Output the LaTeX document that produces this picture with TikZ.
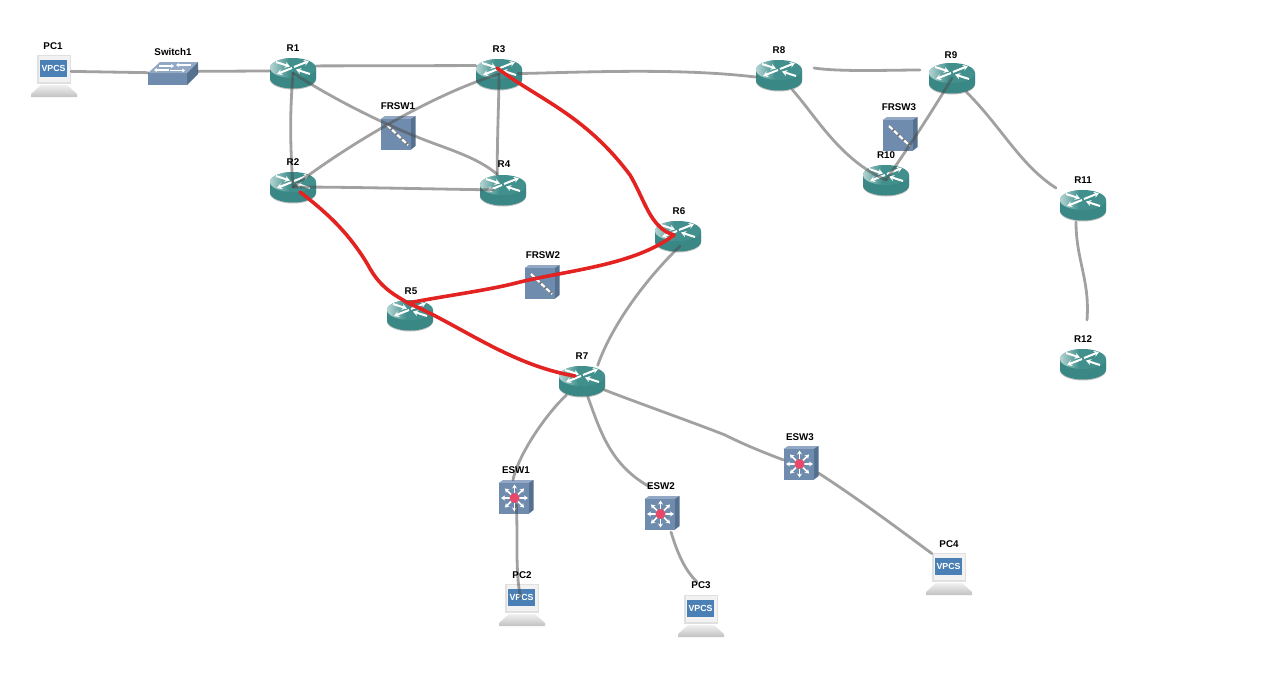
\documentclass[tikz,border=0pt]{standalone}
\usepackage{fontspec}
\setmainfont{Liberation Sans}
\usetikzlibrary{arrows.meta}
\definecolor{rtop}{HTML}{41908D}
\definecolor{rbody}{HTML}{3A8885}
\definecolor{rlight}{HTML}{B4D4D2}
\definecolor{bfront}{HTML}{6F8CAE}
\definecolor{btop}{HTML}{93A8C4}
\definecolor{bside}{HTML}{56708F}
\definecolor{redlink}{HTML}{E32222}
\definecolor{scr}{HTML}{4A80B5}
\definecolor{hot}{HTML}{E8486A}
\tikzset{
  x=1pt,y=-1pt,
  link/.style={draw=black!70,opacity=.52,line width=2.8pt,line cap=round},
  hotlink/.style={draw=redlink,line width=3.6pt,line cap=round},
  lab/.style={font=\bfseries\fontsize{9.8}{10}\selectfont,text=black,inner sep=0pt},
  routerbox/.style={inner sep=0pt,minimum width=46pt,minimum height=31pt},
  vpcsbox/.style={inner sep=0pt,minimum width=34pt,minimum height=42pt},
  switchbox/.style={inner sep=0pt,minimum width=50pt,minimum height=23pt},
  frswbox/.style={inner sep=0pt,minimum width=35pt,minimum height=34pt},
  eswbox/.style={inner sep=0pt,minimum width=35pt,minimum height=34pt},
  warrow/.style={draw=white,line width=2pt,-{Stealth[length=5pt,width=6pt]}},
  router/.pic={
    \fill[black!25] (-23,-4) -- (-23,6.5) arc[x radius=23,y radius=10,start angle=180,end angle=0] -- (23,-4) -- cycle;
    \fill[rbody] (-23,-5) -- (-23,5.5) arc[x radius=23,y radius=10,start angle=180,end angle=0] -- (23,-5) -- cycle;
    \fill[rtop] (0,-5) ellipse[x radius=23,y radius=10];
    \begin{scope}
      \clip (0,-5) ellipse[x radius=23,y radius=10];
      \shade[left color=rlight,right color=rtop] (-23,-15) rectangle (-4,5);
    \end{scope}
    \draw[warrow] (-1,-5) -- (-16,1);
    \draw[warrow] (1,-6) -- (16,-12);
    \draw[warrow] (-17,-11) -- (-3,-6.5);
    \draw[warrow] (17,1) -- (3,-3.5);
  },
  vpcs/.pic={
    \fill[black!12] (-17,-21) rectangle (17,8);
    \fill[black!5] (-15.5,-20) rectangle (15.5,6);
    \fill[scr] (-14,-16) rectangle (13,1);
    \node[font=\bfseries\fontsize{8.8}{9}\selectfont,text=white,inner sep=0pt] at (-0.5,-7.5) {VPCS};
    \shade[top color=black!6,bottom color=black!24] (-13,9) -- (13,9) -- (23,18) -- (23,21) -- (-23,21) -- (-23,18) -- cycle;
  },
  switchicon/.pic={
    \fill[bfront] (-25,-1) rectangle (14,11);
    \fill[btop] (-25,-1) -- (-13,-12) -- (25,-12) -- (14,-1) -- cycle;
    \fill[bside] (14,-1) -- (25,-12) -- (25,0) -- (14,11) -- cycle;
    \draw[draw=white,line width=1.3pt,-{Stealth[length=3pt,width=4pt]}] (-14,-8) -- (1,-8);
    \draw[draw=white,line width=1.3pt,-{Stealth[length=3pt,width=4pt]}] (18,-9) -- (3,-9);
    \draw[draw=white,line width=1.3pt,-{Stealth[length=3pt,width=4pt]}] (-4,-4) -- (-19,-4);
    \draw[draw=white,line width=1.3pt,-{Stealth[length=3pt,width=4pt]}] (-3,-3.5) -- (12,-3.5);
  },
  boxbase/.pic={
    \fill[btop] (-17.5,-14) -- (-13,-17) -- (17.5,-17) -- (12.5,-14) -- cycle;
    \fill[bside] (12.5,-14) -- (17.5,-17) -- (17.5,13) -- (12.5,17) -- cycle;
    \fill[bfront] (-17.5,-14) rectangle (12.5,17);
  },
  frsw/.pic={
    \pic {boxbase};
    \draw[black!55,line width=2.6pt] (-11,-8) -- (10,12);
    \draw[white,line width=2.2pt,dash pattern=on 5pt off 2pt] (-11,-8) -- (10,12);
  },
  esw/.pic={
    \pic {boxbase};
    \foreach \a in {0,45,...,315}{
      \draw[draw=white,line width=1.6pt,-{Stealth[length=4pt,width=5pt]}] (-1.5,1) -- ++(\a:13.5);
    }
    \fill[hot] (-1.5,1) circle[radius=5];
  },
}
\newcommand{\dev}[4]{\pic at (#3,#4) {#1}; \node[#1box] (#2) at (#3,#4) {};}
\newcommand{\rtr}[3]{\pic at (#2,#3) {router}; \node[routerbox] (#1) at (#2,#3) {};}
\newcommand{\swi}[3]{\pic at (#2,#3) {switchicon}; \node[switchbox] (#1) at (#2,#3) {};}
\newcommand{\lbl}[3]{\node[lab] (#1-label) at (#2,#3) {#1};}
\begin{document}
\begin{tikzpicture}
\useasboundingbox (0,0) rectangle (1280,675);
\fill[white] (0,0) rectangle (1280,675);
\dev{vpcs}{PC1}{54}{76}
\swi{Switch1}{173}{74}
\rtr{R1}{293}{73}
\rtr{R3}{499}{74}
\rtr{R8}{779}{75}
\rtr{R9}{952}{78}
\dev{frsw}{FRSW1}{398}{133}
\rtr{R2}{293}{187}
\rtr{R4}{503}{190}
\dev{frsw}{FRSW3}{900}{134}
\rtr{R10}{886}{180}
\rtr{R6}{678}{236}
\rtr{R11}{1083}{205}
\dev{frsw}{FRSW2}{542}{282}
\rtr{R5}{410}{315}
\rtr{R7}{582}{381}
\rtr{R12}{1083}{364}
\dev{esw}{ESW3}{801}{463}
\dev{esw}{ESW1}{516}{497}
\dev{esw}{ESW2}{662}{513}
\dev{vpcs}{PC2}{522}{605}
\dev{vpcs}{PC3}{701}{616}
\dev{vpcs}{PC4}{949}{574}
\coordinate (R8gap) at (814,68);
\coordinate (R9gap) at (920,70);
\coordinate (R12top) at (1087,320);
\coordinate (PC3top) at (697,582);
\coordinate (ESW2foot) at (671,532);
\coordinate (ESW2top) at (650,487);
\coordinate (R11low) at (1076,222);
\coordinate (R11left) at (1056,188);
\coordinate (R6foot) at (680,246);
\coordinate (R3hub) at (497,68);
\coordinate (R2hub) at (300,192);
\coordinate (R5hub) at (408,303);
\coordinate (R6hub) at (674,235);
\coordinate (R7hub) at (575,376);
\draw[link] (PC1.15) -- (Switch1.177);
\draw[link] (Switch1.6) -- (R1.175);
\draw[link] (R1.17) -- (R3.160);
\draw[link] (R1.center) .. controls (291,100) and (289,130) .. (R2.center);
\draw[link] (R1.center) .. controls (335,100) and (385,125) .. (430,142) .. controls (460,153) and (480,160) .. (R4.110);
\draw[link] (R2.center) .. controls (340,150) and (430,95) .. (R3.center);
\draw[link,shorten >=10pt] (R2.center) .. controls (350,187) and (430,189) .. (R4.center);
\draw[link] (R3.center) .. controls (499,100) and (497,140) .. (R4.110);
\draw[link,shorten <=19pt] (R3.center) .. controls (590,72) and (680,68) .. (R8.-175);
\draw[link] (R8gap) .. controls (840,72) and (890,70) .. (R9gap);
\draw[link,shorten <=20pt] (R8.center) .. controls (815,115) and (840,160) .. (R10.center);
\draw[link] (R9.center) .. controls (930,115) and (910,145) .. (R10.center);
\draw[link,shorten <=20pt] (R9.center) .. controls (1000,125) and (1020,165) .. (R11left);
\draw[link] (R11low) .. controls (1076,260) and (1090,280) .. (R12top);
\draw[link] (R6foot) .. controls (645,280) and (612,325) .. (R7.45);
\draw[link,shorten <=21pt] (R7.center) .. controls (550,410) and (520,450) .. (ESW1.100);
\draw[link,shorten <=17pt] (R7.center) .. controls (600,430) and (610,465) .. (ESW2top);
\draw[link,shorten <=24pt] (R7.center) .. controls (630,400) and (700,425) .. (725,435) .. controls (745,445) and (765,453) .. (ESW3.170);
\draw[link,shorten <=8pt,shorten >=7pt] (ESW1.center) .. controls (518,540) and (515,570) .. (PC2.center);
\draw[link] (ESW2foot) .. controls (678,555) and (685,570) .. (PC3top);
\draw[link] (ESW3.-30) .. controls (860,500) and (900,530) .. (PC4.130);
\draw[hotlink] (R3hub) .. controls (540,100) and (585,115) .. (630,175) .. controls (645,200) and (650,228) .. (R6hub);
\draw[hotlink] (R2hub) .. controls (330,215) and (350,235) .. (368,265) .. controls (380,288) and (395,295) .. (R5hub);
\draw[hotlink] (R5hub) .. controls (450,295) and (490,290) .. (520,282) .. controls (570,270) and (635,265) .. (R6hub);
\draw[hotlink] (R5hub) .. controls (460,325) and (510,365) .. (R7hub);
\lbl{PC1}{53}{46}
\lbl{Switch1}{173}{52}
\lbl{R1}{293}{48}
\lbl{R3}{499}{49}
\lbl{R8}{779}{50}
\lbl{R9}{951}{55}
\lbl{FRSW1}{398}{106}
\lbl{R2}{293}{162}
\lbl{R4}{504}{164}
\lbl{FRSW3}{899}{107}
\lbl{R10}{886}{155}
\lbl{R6}{679}{211}
\lbl{R11}{1083}{180}
\lbl{FRSW2}{543}{255}
\lbl{R5}{411}{291}
\lbl{R7}{582}{356}
\lbl{R12}{1083}{339}
\lbl{ESW3}{800}{437}
\lbl{ESW1}{516}{470}
\lbl{ESW2}{661}{486}
\lbl{PC2}{522}{575}
\lbl{PC3}{701}{585}
\lbl{PC4}{949}{544}
\end{tikzpicture}
\end{document}
